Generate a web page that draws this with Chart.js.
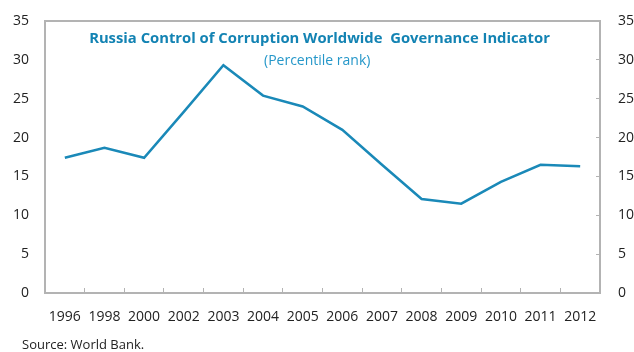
<!DOCTYPE html>
<html lang="en">
<head>
    <meta charset="UTF-8">
    <title>Russia Control of Corruption</title>
    <script src="https://cdn.jsdelivr.net/npm/chart.js@4"></script>
    <style>
      body { margin: 0; background: #fff; }
      #wrap { position: relative; width: 634px; height: 352px; font-family: "Open Sans", sans-serif; }
      canvas { display: block; }
      #title { position: absolute; left: 42px; width: 555px; top: 27px; text-align: center;
               font-weight: bold; font-size: 14.8px; color: #1383b3; white-space: pre; }
      #subtitle { position: absolute; left: 264px; top: 50px;
                  font-size: 14px; color: #2597c9; }
      #source { position: absolute; left: 22px; top: 335px; font-size: 13px; color: #222; }
    </style>
</head>
<body>
  <div id="wrap">
    <canvas id="myChart" width="634" height="352"></canvas>
    <div id="title">Russia Control of Corruption Worldwide  Governance Indicator</div>
    <div id="subtitle">(Percentile rank)</div>
    <div id="source">Source: World Bank.</div>
  </div>

  <script>
    const years = ['1996', '1998', '2000', '2002', '2003', '2004', '2005', '2006',
                   '2007', '2008', '2009', '2010', '2011', '2012'];
    const percentileRank = [17.4, 18.7, 17.4, 23.3, 29.3, 25.4, 24.0, 21.0,
                            16.5, 12.1, 11.5, 14.3, 16.5, 16.3];
    const yTicks = [0, 5, 10, 15, 20, 25, 30, 35];

    const axisGrey = '#b3b3b3';
    const tickFont = { family: 'Open Sans', size: 14 };

    // keep the plot box where the reference has it (tick label padding would push it down)
    function fixY(width) {
      return s => { s.width = width; s.paddingTop = 0; s.paddingBottom = 0; };
    }

    window.addEventListener('load', setup);

    function setup() {
      const ctx = document.getElementById('myChart').getContext('2d');
      const myChart = new Chart(ctx, {
        type: 'line',
        data: {
          labels: years,
          datasets: [
            {
              label: 'Control of Corruption',
              data: percentileRank,
              fill: false,
              borderColor: '#1a89b8',
              borderWidth: 2.5,
              pointRadius: 0,
              tension: 0
            }
          ]
        },
        options: {
          responsive: false,
          animation: false,
          layout: { padding: { top: 21, left: 0, right: 0, bottom: 0 } },
          plugins: { legend: { display: false }, tooltip: { enabled: false } },
          scales: {
            x: {
              position: 'bottom',
              offset: true,
              grid: { offset: true, drawOnChartArea: false, drawTicks: true, tickLength: -5, color: axisGrey, lineWidth: 1 },
              border: { color: axisGrey, width: 2 },
              ticks: { color: '#222', font: tickFont, padding: 21, maxRotation: 0, autoSkip: false },
              afterFit: s => { s.height = 59; }
            },
            xTop: {
              position: 'top',
              labels: years,
              offset: true,
              grid: { drawOnChartArea: false, drawTicks: false },
              border: { color: axisGrey, width: 2 },
              ticks: { display: false },
              afterFit: s => { s.height = 0; }
            },
            y: {
              position: 'left',
              min: 0,
              max: 35,
              grid: { drawOnChartArea: false, drawTicks: false },
              border: { color: axisGrey, width: 2 },
              ticks: { stepSize: 5, color: '#222', font: tickFont, padding: 16 },
              afterBuildTicks: s => { s.ticks = yTicks.map(v => ({ value: v })); },
              afterFit: fixY(45)
            },
            yRight: {
              position: 'right',
              min: 0,
              max: 35,
              grid: { drawOnChartArea: false, drawTicks: true, tickLength: -4, color: axisGrey, lineWidth: 1 },
              border: { color: axisGrey, width: 2 },
              ticks: { stepSize: 5, color: '#222', font: tickFont, padding: 22 },
              afterBuildTicks: s => { s.ticks = yTicks.map(v => ({ value: v })); },
              afterFit: fixY(34)
            }
          }
        }
      });
    }
  </script>
</body>
</html>
